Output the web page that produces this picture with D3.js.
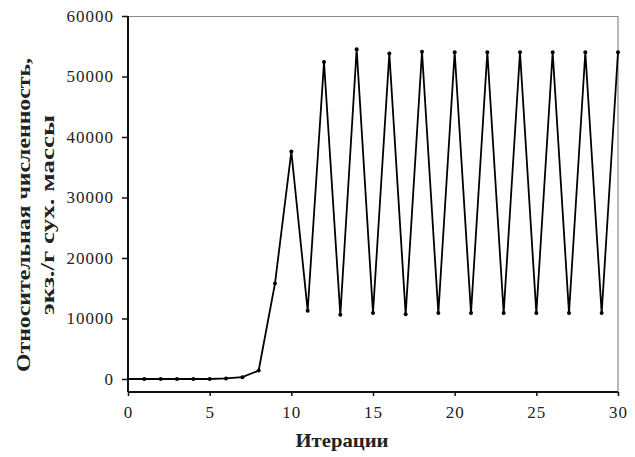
<!DOCTYPE html>
<html>
<head>
<meta charset="utf-8">
<script src="https://cdn.jsdelivr.net/npm/d3@7"></script>
<style>
  body { margin: 0; background: #fff; }
  svg text { font-family: "Liberation Serif", "Times New Roman", serif; fill: #222; }
</style>
</head>
<body>
<div id="chart"></div>
<script>
// values
var iterations = [0, 1, 2, 3, 4, 5, 6, 7, 8, 9, 10, 11, 12, 13, 14, 15, 16, 17, 18, 19, 20, 21, 22, 23, 24, 25, 26, 27, 28, 29, 30];
var abundance = [0, 0, 0, 0, 0, 0, 100, 300, 1400, 15800, 37600, 11300, 52400, 10600, 54500, 10900, 53800, 10700, 54100, 10900, 54000, 10900, 54000, 10900, 54000, 10900, 54000, 10900, 54000, 10900, 54000];
var xTicks = [0, 5, 10, 15, 20, 25, 30];
var yTicks = [0, 10000, 20000, 30000, 40000, 50000, 60000];

var W = 635, H = 457;
var margin = { top: 16, right: 17, bottom: 65, left: 128 };
var width = W - margin.left - margin.right;
var height = H - margin.top - margin.bottom;

var svg = d3.select("#chart").append("svg")
  .attr("width", W)
  .attr("height", H);

var g = svg.append("g")
  .attr("transform", "translate(" + margin.left + "," + margin.top + ")");

var x = d3.scaleLinear().domain([0, 30]).range([0, width]);
var y = d3.scaleLinear().domain([-2150, 60000]).range([height, 0]);

// frame: top and right
g.append("path")
  .attr("d", "M0,0.5H" + width + "V" + height)
  .attr("fill", "none")
  .attr("stroke", "#8a8a8a")
  .attr("stroke-width", 1.2);

var yAxis = d3.axisLeft(y).tickValues(yTicks).tickSize(6).tickPadding(8).tickFormat(d3.format("d"));
var xAxis = d3.axisBottom(x).tickValues(xTicks).tickSize(4).tickPadding(10).tickFormat(d3.format("d"));

var ya = g.append("g").call(yAxis);
ya.select(".domain").attr("d", "M0,0V" + height).attr("stroke", "#111").attr("stroke-width", 2);
ya.selectAll(".tick line").attr("stroke", "#111").attr("stroke-width", 1.5);
ya.selectAll("text").style("font-size", "17px").style("letter-spacing", "1px");

var xa = g.append("g").attr("transform", "translate(0," + height + ")").call(xAxis);
xa.select(".domain").attr("d", "M0,0H" + width).attr("stroke", "#111").attr("stroke-width", 2);
xa.selectAll(".tick line").attr("stroke", "#111").attr("stroke-width", 1.5);
xa.selectAll("text").style("font-size", "17px").style("letter-spacing", "1px");

var data = iterations.map(function (d, i) { return { it: d, v: abundance[i] }; });

var line = d3.line()
  .x(function (d) { return x(d.it); })
  .y(function (d) { return y(d.v); });

g.append("path")
  .datum(data)
  .attr("fill", "none")
  .attr("stroke", "#000")
  .attr("stroke-width", 1.8)
  .attr("stroke-linejoin", "miter")
  .attr("d", line);

g.selectAll(".dot")
  .data(data.slice(1))
  .enter().append("circle")
  .attr("class", "dot")
  .attr("cx", function (d) { return x(d.it); })
  .attr("cy", function (d) { return y(d.v); })
  .attr("r", 2)
  .attr("fill", "#000");

// axis titles
svg.append("text")
  .attr("x", 342)
  .attr("y", 447)
  .attr("text-anchor", "middle")
  .style("font-size", "19px")
  .style("font-weight", "bold")
  .attr("textLength", 93)
  .attr("lengthAdjust", "spacingAndGlyphs")
  .text("Итерации");

var yt = svg.append("text")
  .attr("transform", "translate(30,215) rotate(-90)")
  .attr("text-anchor", "middle")
  .style("font-size", "19px")
  .style("font-weight", "bold");
yt.append("tspan").attr("x", 0).attr("y", 0)
  .attr("textLength", 314).attr("lengthAdjust", "spacingAndGlyphs")
  .text("Относительная численность,");
yt.append("tspan").attr("x", 0).attr("y", 24)
  .attr("textLength", 200).attr("lengthAdjust", "spacingAndGlyphs")
  .text("экз./г сух. массы");
</script>
</body>
</html>
